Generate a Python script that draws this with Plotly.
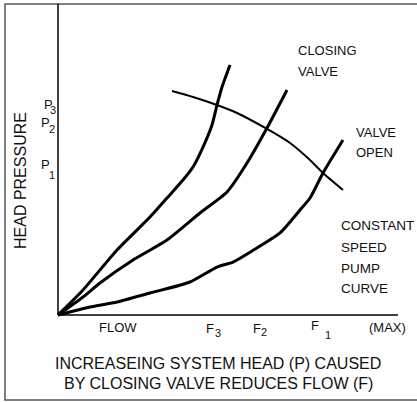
import plotly.graph_objects as go

# ---- data (flow: % of max flow axis, head: % of head axis) ----
flow_f3 = [0, 7.35, 17.35, 27.06, 32.06, 36.76, 39.71, 42.65, 45.29, 46.76, 48.24, 50.59]
head_f3 = [0, 8.04, 20.9, 31.5, 37.6, 43.4, 47.6, 54.0, 61.1, 67.5, 73.3, 80.4]

flow_f2 = [0, 7.35, 12.35, 22.06, 32.06, 41.76, 49.71, 55.59, 61.47, 67.35]
head_f2 = [0, 5.79, 10.29, 17.68, 24.12, 32.8, 39.55, 48.87, 60.13, 72.35]

flow_f1 = [0, 9.41, 17.35, 27.06, 38.82, 46.76, 51.47, 57.06, 65.29, 71.18, 74.12, 77.94, 83.82]
head_f1 = [0, 2.57, 4.18, 7.07, 10.61, 15.43, 17.04, 20.58, 26.37, 33.76, 37.62, 45.66, 56.27]

flow_pump = [33.53, 39.71, 46.76, 52.65, 61.47, 68.24, 74.12, 77.94, 83.82]
head_pump = [72.03, 70.1, 67.52, 64.95, 59.81, 55.31, 49.84, 45.66, 40.19]

W, H = 417, 402
OX, OY = 58, 315          # origin pixel
SX, SY = 3.4, 3.11        # pixels per unit


def d(px, py):
    return (px - OX) / SX, (OY - py) / SY


FONT = "Liberation Sans, Arial, sans-serif"

fig = go.Figure()
for fx, hy, w in [(flow_f3, head_f3, 3), (flow_f2, head_f2, 3),
                  (flow_f1, head_f1, 3), (flow_pump, head_pump, 2)]:
    fig.add_trace(go.Scatter(x=fx, y=hy, mode="lines",
                             line=dict(color="black", width=w, shape="spline", smoothing=0.6),
                             hoverinfo="skip", showlegend=False))

xr = [d(0, 0)[0], d(W, 0)[0]]
yr = [d(0, H)[1], d(0, 0)[1]]

shapes = [
    # frame
    dict(type="rect", xref="paper", yref="paper", x0=5 / W, x1=1.02,
         y0=(H - 400) / H, y1=(H - 4) / H, line=dict(color="#555", width=1.5)),
    # axes
    dict(type="line", x0=0, x1=0, y0=0, y1=d(0, 4)[1], line=dict(color="black", width=1.5)),
    dict(type="line", x0=0, x1=d(398, 0)[0], y0=0, y1=0, line=dict(color="black", width=1.5)),
]

ann = []


def txt(s, px, py, size=13, xanchor="left", angle=0):
    x, y = d(px, py)
    ann.append(dict(x=x, y=y, text=s, showarrow=False, xanchor=xanchor, yanchor="middle",
                    textangle=angle, font=dict(family=FONT, size=size, color="#111")))


txt("CLOSING", 296, 50)
txt("VALVE", 296, 71)
txt("VALVE", 354, 132)
txt("OPEN", 354, 152)
txt("CONSTANT", 339, 225, size=13.5)
txt("SPEED", 339, 247, size=13.5)
txt("PUMP", 339, 268, size=13.5)
txt("CURVE", 339, 288, size=13.5)
txt("FLOW", 97, 327)
txt("F", 204, 328)
txt("3", 213, 333, size=11)
txt("F", 251, 328)
txt("2", 259, 332, size=11)
txt("F", 309, 325)
txt("1", 323, 335, size=11)
txt("(MAX)", 367, 327)
txt("INCREASEING SYSTEM HEAD (P) CAUSED", 218, 363, size=16, xanchor="center")
txt("BY CLOSING VALVE REDUCES FLOW (F)", 218, 383, size=16, xanchor="center")
txt("HEAD PRESSURE", 20, 181, size=16, xanchor="center", angle=-90)
txt("P", 42, 104)
txt("3", 48, 110, size=11)
txt("P", 39, 122)
txt("2", 47, 129, size=11)
txt("P", 39, 164)
txt("1", 47, 175, size=11)

fig.update_layout(
    width=W, height=H, margin=dict(l=0, r=0, t=0, b=0),
    paper_bgcolor="white", plot_bgcolor="white",
    xaxis=dict(range=xr, visible=False, fixedrange=True),
    yaxis=dict(range=yr, visible=False, fixedrange=True),
    shapes=shapes, annotations=ann, showlegend=False,
)
fig.write_html("out.html", config={"displayModeBar": False},
               post_script="document.body.style.margin='0';document.body.style.padding='0';")
